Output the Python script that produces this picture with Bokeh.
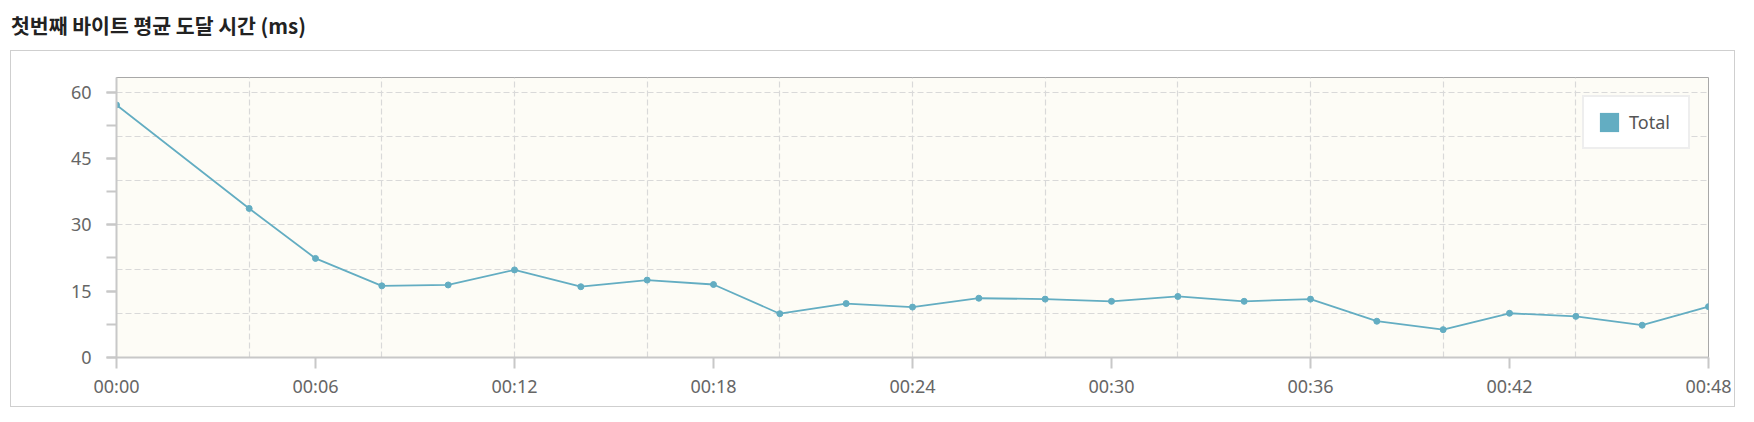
from bokeh.plotting import figure
from bokeh.models import (ColumnDataSource, Range1d, FixedTicker, SingleIntervalTicker,
                          Legend, LegendItem, Div)
from bokeh.layouts import column
from bokeh.embed import file_html
from bokeh.resources import INLINE

title_text = "첫번째 바이트 평균 도달 시간 (ms)"
series_name = "Total"

# minutes after 00:00 (no sample at 00:02)
minutes = [0, 4, 6, 8, 10, 12, 14, 16, 18, 20, 22, 24, 26, 28, 30, 32, 34, 36, 38, 40, 42, 44, 46, 48]
avg_ms = [57.1, 33.7, 22.4, 16.2, 16.4, 19.8, 16.0, 17.5, 16.5, 9.9, 12.2, 11.4,
          13.4, 13.2, 12.7, 13.8, 12.7, 13.2, 8.2, 6.3, 10.0, 9.3, 7.3, 11.5]

x_tick_pos = [0, 6, 12, 18, 24, 30, 36, 42, 48]
x_tick_labels = ["00:00", "00:06", "00:12", "00:18", "00:24", "00:30", "00:36", "00:42", "00:48"]
x_grid_pos = [4, 8, 12, 16, 20, 24, 28, 32, 36, 40, 44]

line_color = "#63adc2"
axis_color = "#c8c8c8"
grid_color = "#d9d9d9"
label_color = "#666666"

source = ColumnDataSource(data={"x": minutes, "y": avg_ms})

p = figure(width=1725, height=357, output_backend="svg", toolbar_location=None,
           x_range=Range1d(0, 48), y_range=Range1d(0, 63.3),
           min_border_left=105, min_border_right=28, min_border_top=26, min_border_bottom=51)
p.styles = {"border": "1px solid #cfcfcf"}
p.margin = (0, 0, 0, 10)

p.background_fill_color = "#fdfcf6"
p.border_fill_color = "white"
p.outline_line_color = "#a8a8a8"
p.outline_line_width = 1

line = p.line("x", "y", source=source, line_color=line_color, line_width=1.8)
p.scatter("x", "y", source=source, size=6, fill_color=line_color, line_color=line_color)

# legend swatch: a hidden zero-size quad so the legend draws a filled square
swatch = p.quad(left=minutes[:1], right=minutes[:1], top=avg_ms[:1], bottom=avg_ms[:1],
                fill_color=line_color, line_color=None, visible=False)
legend = Legend(items=[LegendItem(label=series_name, renderers=[swatch])],
                location="top_right", margin=18, padding=13, spacing=0,
                glyph_width=24, glyph_height=24, label_standoff=8, label_width=46,
                border_line_color="#dedede", border_line_width=2,
                background_fill_color="white", background_fill_alpha=1,
                label_text_font="Noto Sans", label_text_font_size="18px",
                label_text_color="#555555")
p.add_layout(legend)

# x axis
p.xaxis.ticker = FixedTicker(ticks=x_tick_pos, minor_ticks=[])
p.xaxis.major_label_overrides = dict(zip(x_tick_pos, x_tick_labels))
p.xgrid.ticker = FixedTicker(ticks=x_grid_pos)

# y axis: labels every 15, ticks every 7.5, grid every 10
p.yaxis.ticker = SingleIntervalTicker(interval=15, num_minor_ticks=2)
p.ygrid.ticker = SingleIntervalTicker(interval=10)

for ax in (p.xaxis, p.yaxis):
    ax.axis_line_color = axis_color
    ax.axis_line_width = 2
    ax.major_tick_line_color = axis_color
    ax.major_tick_line_width = 2
    ax.minor_tick_line_color = axis_color
    ax.minor_tick_line_width = 2
    ax.major_tick_in = 0
    ax.minor_tick_in = 0
    ax.major_label_text_font = "Noto Sans"
    ax.major_label_text_font_size = "18px"
    ax.major_label_text_color = label_color

p.xaxis.major_tick_out = 11
p.xaxis.major_label_standoff = 5
p.yaxis.major_tick_out = 10
p.yaxis.minor_tick_out = 10
p.yaxis.major_label_standoff = 15

for g in (p.xgrid, p.ygrid):
    g.grid_line_color = grid_color
    g.grid_line_width = 1.2
    g.grid_line_dash = "6 3"

title = Div(text=('<div style="font-family: \'Noto Sans CJK KR\'; font-weight: bold; '
                  'font-size: 20.5px; color: #222; padding: 3px 0 0 3px; white-space: nowrap;">'
                  + title_text + '</div>'),
            width=1738, height=42, margin=(8, 0, 0, 8))

layout = column(title, p, spacing=0)

open("out.html", "w").write(file_html(layout, INLINE))
